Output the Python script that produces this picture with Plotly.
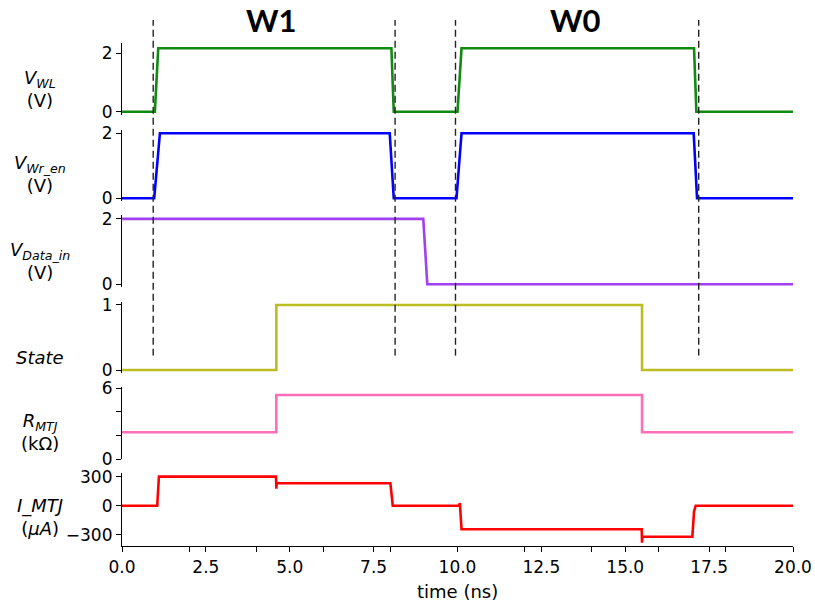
import plotly.graph_objects as go

# ---------------- data ----------------
t_wl = [0, 0.98, 1.08, 8.03, 8.10, 10.00, 10.12, 17.05, 17.12, 20]
v_wl = [0, 0, 2.17, 2.17, 0, 0, 2.17, 2.17, 0, 0]

t_wr = [0, 0.96, 1.13, 7.98, 8.10, 9.97, 10.12, 17.04, 17.14, 20]
v_wr = [0, 0, 2.0, 2.0, 0, 0, 2.0, 2.0, 0, 0]

t_din = [0, 8.98, 9.10, 20]
v_din = [2.0, 2.0, 0, 0]

t_state = [0, 4.6, 4.6, 15.5, 15.5, 20]
v_state = [0, 0, 1, 1, 0, 0]

t_r = [0, 4.6, 4.6, 15.5, 15.5, 20]
v_r = [2.28, 2.28, 5.43, 5.43, 2.28, 2.28]

t_i = [0, 1.05, 1.10, 4.59, 4.60, 4.61, 8.00, 8.07, 10.05, 10.07, 10.12,
       15.49, 15.50, 15.51, 17.00, 17.05, 17.10, 20]
v_i = [0, 0, 300, 300, 176, 232, 232, 0, 0, 28, -244,
       -244, -383, -321, -321, -60, 0, 0]

marker_times = [0.93, 8.14, 9.94, 17.19]
phase_labels = ["W1", "W0"]
phase_centers = [4.46, 13.52]

x_ticks = [0.0, 2.5, 5.0, 7.5, 10.0, 12.5, 15.0, 17.5, 20.0]

# ---------------- layout helpers ----------------
W, H = 815, 610
L, R, T, B = 122, 22, 15, 64
PH = H - T - B
X_BOTTOM_PX = H - B


def frac(ypx):
    return (X_BOTTOM_PX - ypx) / PH


def xfrac(xpx):
    return (xpx - L) / (W - L - R)


FONT = "DejaVu Sans"
BLACK = "#000000"
TICK_SIZE = 17
LABEL_SIZE = 18

fig = go.Figure()

series = [
    (t_wl, v_wl, "#108a10", "y"),
    (t_wr, v_wr, "#0000ff", "y2"),
    (t_din, v_din, "#a040f0", "y3"),
    (t_state, v_state, "#bcbd22", "y4"),
    (t_r, v_r, "#ff6eb8", "y5"),
    (t_i, v_i, "#ff0000", "y6"),
]
for tx, vy, col, ya in series:
    fig.add_trace(go.Scatter(x=tx, y=vy, mode="lines", xaxis="x", yaxis=ya,
                             line=dict(color=col, width=2.6), hoverinfo="skip",
                             showlegend=False))

for tm in marker_times:
    fig.add_trace(go.Scatter(x=[tm, tm], y=[0, 1], mode="lines", xaxis="x", yaxis="y7",
                             line=dict(color="#222222", width=1.4, dash="7px,4px"),
                             hoverinfo="skip", showlegend=False))

# panel specs: (top px, bottom px, range, tickvals, ticktext)
panels = [
    (43.3, 114.7, [-0.103, 2.34], [0, 2], ["0", "2"]),
    (130.0, 201.3, [-0.092, 2.10], [0, 2], ["0", "2"]),
    (215.0, 287.3, [-0.092, 2.12], [0, 2], ["0", "2"]),
    (301.7, 373.0, [-0.046, 1.05], [0, 1], ["0", "1"]),
    (386.7, 459.3, [0, 6.135], [0, 2, 4, 6], ["0", "", "", "6"]),
    (472.7, 546.0, [-417, 341], [-300, 0, 300], ["\u2212300", "0", "300"]),
]

layout = dict(
    width=W, height=H, autosize=False,
    margin=dict(l=L, r=R, t=T, b=B, pad=0, autoexpand=False),
    plot_bgcolor="rgba(0,0,0,0)", paper_bgcolor="white",
    font=dict(family=FONT, size=16, color=BLACK),
    showlegend=False,
)

layout["xaxis"] = dict(
    domain=[0, 1], range=[0, 20], anchor="y6", automargin=False,
    showline=True, linecolor=BLACK, linewidth=1.2, mirror=False,
    ticks="outside", ticklen=5, tickwidth=1.2, tickcolor=BLACK,
    tickvals=x_ticks, ticktext=[f"{v:.1f}" for v in x_ticks],
    tickfont=dict(size=TICK_SIZE, family=FONT),
    minor=dict(dtick=2, tick0=0, ticks="outside", ticklen=5, tickwidth=1.2, tickcolor=BLACK),
    showgrid=False, zeroline=False,
)

for i, (top, bot, rng, tv, tt) in enumerate(panels):
    key = "yaxis" if i == 0 else f"yaxis{i + 1}"
    layout[key] = dict(
        domain=[max(0, frac(bot)), frac(top)], range=rng, anchor="x", automargin=False,
        showline=True, linecolor=BLACK, linewidth=1.2,
        ticks="outside", ticklen=5, tickwidth=1.2, tickcolor=BLACK,
        tickvals=tv, ticktext=tt, tickfont=dict(size=TICK_SIZE, family=FONT),
        showgrid=False, zeroline=False,
    )

layout["yaxis7"] = dict(domain=[frac(355.7), frac(20)], range=[0, 1], anchor="x",
                        visible=False, showgrid=False, zeroline=False, automargin=False)

fig.update_layout(**layout)

# y labels
ylabels = [
    ("<i>V<sub>WL</sub></i><br>(V)", 88.5),
    ("<i>V<sub>Wr_en</sub></i><br>(V)", 174),
    ("<i>V<sub>Data_in</sub></i><br>(V)", 261),
    ("<i>State</i>", 357),
    ("<i>R<sub>MTJ</sub></i><br>(k\u03a9)", 432),
    ("<i>I_MTJ</i><br>(<i>\u03bcA</i>)", 517),
]
for txt, ypx in ylabels:
    fig.add_annotation(text=txt, xref="paper", yref="paper", x=xfrac(40), y=frac(ypx),
                       xanchor="center", yanchor="middle", showarrow=False,
                       font=dict(size=LABEL_SIZE, family=FONT, color=BLACK), align="center")

# x axis title
fig.add_annotation(text="time (ns)", xref="x", yref="paper", x=10, y=frac(591),
                   xanchor="center", yanchor="middle", showarrow=False,
                   font=dict(size=LABEL_SIZE, family=FONT, color=BLACK))

for lab, xc in zip(phase_labels, phase_centers):
    fig.add_annotation(text=f"<b>{lab}</b>", xref="x", yref="paper", x=xc, y=frac(20),
                       xanchor="center", yanchor="middle", showarrow=False,
                       font=dict(size=31, family="Lato", color=BLACK))

fig.write_html("out.html")
